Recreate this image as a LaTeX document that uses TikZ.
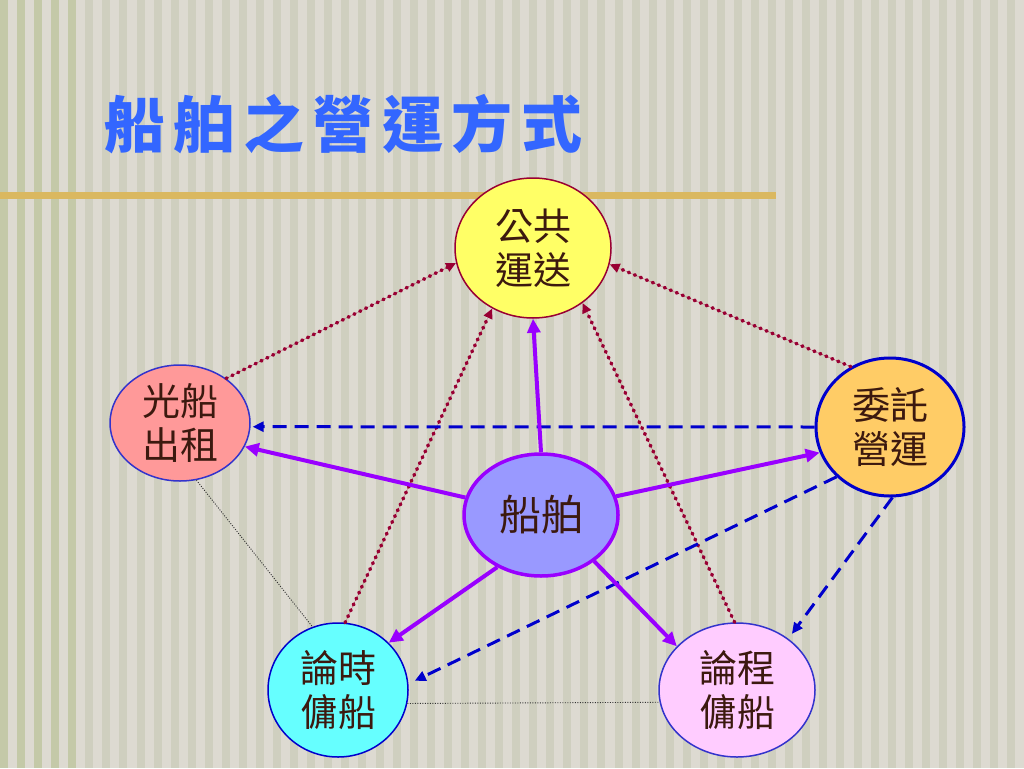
\documentclass[tikz,border=0pt]{standalone}
\usepackage{fontspec}
\newfontfamily\cjk{Noto Sans CJK TC}
\usetikzlibrary{shapes.geometric,arrows.meta}
\definecolor{bgbase}{RGB}{221,218,209}
\definecolor{stripe}{RGB}{207,207,191}
\definecolor{stripegreen}{RGB}{196,201,168}
\definecolor{gold}{RGB}{218,184,96}
\definecolor{titleblue}{RGB}{51,102,255}
\definecolor{txt}{RGB}{60,25,15}
\definecolor{purp}{RGB}{153,0,255}
\definecolor{dred}{RGB}{153,0,51}
\definecolor{dblue}{RGB}{0,0,204}
\definecolor{mblue}{RGB}{51,51,204}
\definecolor{fyellow}{RGB}{255,255,102}
\definecolor{fsalmon}{RGB}{255,153,153}
\definecolor{forange}{RGB}{255,204,102}
\definecolor{flav}{RGB}{153,153,255}
\definecolor{fcyan}{RGB}{102,255,255}
\definecolor{fpink}{RGB}{255,204,255}
\tikzset{
  bubble/.style={ellipse, draw, inner sep=0pt, align=center, text=txt,
    font=\cjk\fontsize{38}{44}\selectfont},
  mainarrow/.style={draw=purp, line width=4pt, -{Triangle[length=14pt,width=13pt]}},
  redarrow/.style={draw=dred, line width=3.5pt, dash pattern=on 1.2pt off 5.3pt, line cap=round,
    -{Triangle[length=10pt,width=9pt]}, fill=dred},
  bluearrow/.style={draw=dblue, line width=3pt, dash pattern=on 14pt off 8pt,
    -{Triangle[length=11pt,width=10pt]}},
  thinlink/.style={draw=black!80, line width=0.9pt, dash pattern=on 1pt off 1.5pt}
}
\begin{document}
\begin{tikzpicture}[x=1pt,y=-1pt]
\useasboundingbox (0,0) rectangle (1024,768);
\fill[bgbase] (0,0) rectangle (1024,768);
\foreach \i in {0,...,4} {
  \fill[stripegreen] ({\i*17.07},0) rectangle ++(8,768);
}
\foreach \i in {5,...,59} {
  \fill[stripe] ({\i*17.07},0) rectangle ++(8,768);
}
\fill[gold] (0,192) rectangle (776,199);
\node[anchor=west, inner sep=0pt, text=titleblue, font=\cjk\bfseries\fontsize{61}{61}\selectfont] (title) at (104,124)
  {船\kern8.5pt舶\kern8.5pt之\kern8.5pt營\kern8.5pt運\kern8.5pt方\kern8.5pt式};

\node[bubble, fill=fyellow, draw=dred, line width=1.5pt, minimum width=156pt, minimum height=140pt] (pub) at (533,248) {公共\\運送};
\node[bubble, fill=fsalmon, draw=mblue, line width=1.5pt, minimum width=140pt, minimum height=116pt] (rent) at (180,423) {光船\\出租};
\node[bubble, fill=forange, draw=dblue, line width=3pt, minimum width=148pt, minimum height=138pt] (cons) at (890,427) {委託\\營運};
\node[bubble, fill=flav, draw=purp, line width=3.5pt, minimum width=154pt, minimum height=122pt, font=\cjk\fontsize{42}{46}\selectfont] (ship) at (541,515) {船舶};
\node[bubble, fill=fcyan, draw=dblue, line width=1.5pt, minimum width=140pt, minimum height=134pt] (tc) at (338,690) {論時\\傭船};
\node[bubble, fill=fpink, draw=mblue, line width=1.5pt, minimum width=156pt, minimum height=134pt] (vc) at (737,690) {論程\\傭船};

% thin dotted links
\draw[thinlink] (rent.286) -- (tc.112);
\draw[thinlink] (tc.349.5) -- (vc.189.5);

% red dotted arrows to public transport
\draw[redarrow] (rent.44) -- (pub.191);
\draw[redarrow] (tc.84) -- (pub.236);
\draw[redarrow] (vc.92) -- (pub.312);
\draw[redarrow] (cons.123) -- (pub.348);

% blue dashed arrows from consignment
\draw[bluearrow, shorten >=2pt] (cons.180) -- (rent.357);
\draw[bluearrow, shorten >=7pt] (cons.223) -- (tc.5);
\draw[bluearrow, shorten >=6pt] (cons.272) -- (vc.45);

% purple solid arrows from ship
\draw[mainarrow] (ship.90) -- (pub.270);
\draw[mainarrow] (ship.167) -- (rent.340);
\draw[mainarrow] (ship.14) -- (cons.200);
\draw[mainarrow] (ship.230) -- (tc.43);
\draw[mainarrow] (ship.319) -- (vc.144);
\end{tikzpicture}
\end{document}
